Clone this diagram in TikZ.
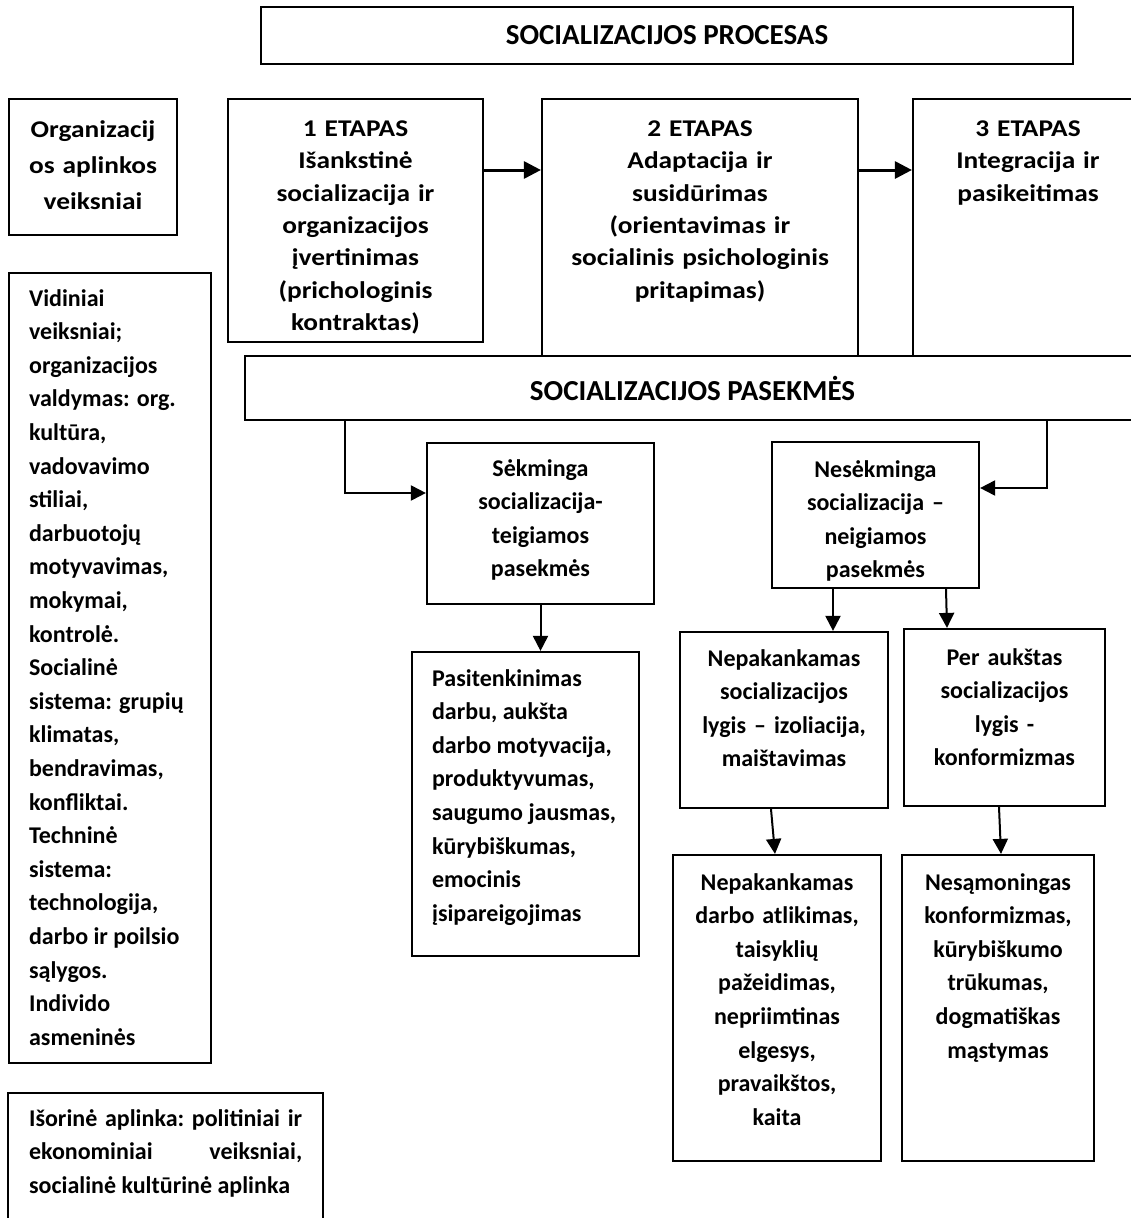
\documentclass[tikz,border=0pt]{standalone}
\usepackage{fontspec}
\setmainfont{Carlito}
\newfontfamily\widefont{Carlito}[FakeStretch=1.14]
\usepackage{tikz}
\usetikzlibrary{positioning, arrows.meta}

\tikzset{
  box/.style={draw, line width=2.2pt, inner sep=0pt},
  txt/.style={inner sep=0pt, align=center, execute at begin node=\strut,
    font=\bfseries\fontsize{24}{33.6}\selectfont},
  ltxt/.style={txt, align=flush left},
  etxt/.style={txt, font=\widefont\bfseries\fontsize{24}{32.4}\selectfont},
  head/.style={font=\bfseries\fontsize{29}{32}\selectfont},
  arr/.style={line width=2pt, -{Triangle[length=15pt,width=15pt]}},
  bigarr/.style={line width=3pt, -{Triangle[length=17pt,width=17pt]}}
}

\begin{document}
\begin{tikzpicture}[x=1pt, y=-1pt]
    \useasboundingbox (0,0) rectangle (1131,1218);

    % --- PROCESAS IR ETAPAI ---
    \node[box, head, minimum width=812pt, minimum height=57pt] (proc) at (667,35.5) {SOCIALIZACIJOS PROCESAS};
    \node[box, minimum width=168pt, minimum height=136pt] (org) at (93,167) {};
    \node[box, minimum width=255pt, minimum height=243pt] (e1) at (355.5,220.5) {};
    \node[box, minimum width=316pt, minimum height=257pt] (e2) at (700,227.5) {};
    \node[box, minimum width=230pt, minimum height=257pt] (e3) at (1028,227.5) {};

    \node[etxt, text width=164pt, font=\widefont\bfseries\fontsize{24}{36}\selectfont, below=14.5pt of org.north] (orgt)
      {Organizacij\\os aplinkos\\veiksniai};
    \node[etxt, text width=250pt, below=15.5pt of e1.north] (e1t)
      {1 ETAPAS\\Išankstinė\\socializacija ir\\organizacijos\\įvertinimas\\(prichologinis\\kontraktas)};
    \node[etxt, text width=310pt, below=15.5pt of e2.north] (e2t)
      {2 ETAPAS\\Adaptacija ir\\susidūrimas\\(orientavimas ir\\socialinis psichologinis\\pritapimas)};
    \node[etxt, text width=225pt, below=15.5pt of e3.north] (e3t)
      {3 ETAPAS\\Integracija ir\\pasikeitimas};

    \draw[bigarr] ([yshift=50.5pt]e1.east) -- ([yshift=50.5pt]e1.east -| e2.west);
    \draw[bigarr] ([yshift=57.5pt]e2.east) -- ([yshift=57.5pt]e2.east -| e3.west);

    % --- veiksniai kairėje ---
    \node[box, minimum width=202pt, minimum height=790pt] (vid) at (110,668) {};
    \node[ltxt, text width=175pt, below right=10.5pt and 21pt of vid.north west] (vidt)
      {Vidiniai\\veiksniai;\\organizacijos\\valdymas: org.\\kultūra,\\vadovavimo\\stiliai,\\darbuotojų\\motyvavimas,\\mokymai,\\kontrolė.\\Socialinė\\sistema: grupių\\klimatas,\\bendravimas,\\konfliktai.\\Techninė\\sistema:\\technologija,\\darbo ir poilsio\\sąlygos.\\Individo\\asmeninės};
    \node[box, minimum width=315pt, minimum height=147pt] (isor) at (165.5,1166.5) {};
    \node[ltxt, text width=273pt, below right=10.5pt and 22pt of isor.north west] (isort)
      {Išorinė\hfill aplinka:\hfill politiniai\hfill ir\\ekonominiai\hfill veiksniai,\\socialinė kultūrinė aplinka};

    % --- PASEKMĖS ---
    \node[box, head, fill=white, minimum width=895pt, minimum height=64pt] (pas) at (692.5,388) {SOCIALIZACIJOS PASEKMĖS};

    \node[box, minimum width=227pt, minimum height=161pt] (sek) at (540.5,523.5) {};
    \node[box, minimum width=207pt, minimum height=146pt] (nes) at (875.5,515) {};
    \node[box, minimum width=227pt, minimum height=304pt] (pat) at (525.5,804) {};
    \node[box, minimum width=208pt, minimum height=176pt] (n2) at (784,720) {};
    \node[box, minimum width=201pt, minimum height=177pt] (pa) at (1004.5,717.5) {};
    \node[box, minimum width=208pt, minimum height=306pt] (n3) at (777,1008) {};
    \node[box, minimum width=192pt, minimum height=306pt] (nsq) at (998,1008) {};

    \node[txt, text width=220pt, below=10.5pt of sek.north] (sekt)
      {Sėkminga\\socializacija-\\teigiamos\\pasekmės};
    \node[txt, text width=200pt, below=12.5pt of nes.north] (nest)
      {Nesėkminga\\socializacija –\\neigiamos\\pasekmės};
    \node[ltxt, text width=200pt, below right=11.5pt and 21pt of pat.north west] (patt)
      {Pasitenkinimas\\darbu, aukšta\\darbo motyvacija,\\produktyvumas,\\saugumo jausmas,\\kūrybiškumas,\\emocinis\\įsipareigojimas};
    \node[txt, text width=200pt, below=11.5pt of n2.north] (n2t)
      {Nepakankamas\\socializacijos\\lygis – izoliacija,\\maištavimas};
    \node[txt, text width=195pt, below=13.5pt of pa.north] (pat2)
      {Per aukštas\\socializacijos\\lygis -\\konformizmas};
    \node[txt, text width=200pt, below=12.5pt of n3.north] (n3t)
      {Nepakankamas\\darbo atlikimas,\\taisyklių\\pažeidimas,\\nepriimtinas\\elgesys,\\pravaikštos,\\kaita};
    \node[txt, text width=185pt, below=12.5pt of nsq.north] (nsqt)
      {Nesąmoningas\\konformizmas,\\kūrybiškumo\\trūkumas,\\dogmatiškas\\mąstymas};

    % rodyklės
    \draw[arr] ([xshift=-347.5pt]pas.south) |- ([yshift=30.5pt]sek.west);
    \draw[arr] ([xshift=354.5pt]pas.south) |- ([yshift=27pt]nes.east);
    \draw[arr] (sek.south) -- (sek.south |- pat.north);
    \draw[arr] ([xshift=-42.5pt]nes.south) -- ([xshift=-42.5pt]nes.south |- n2.north);
    \draw[arr] ([xshift=70.5pt]nes.south) -- ([xshift=-57.5pt]pa.north);
    \draw[arr] ([xshift=-13pt]n2.south) -- ([xshift=-2pt]n3.north);
    \draw[arr] ([xshift=-5.5pt]pa.south) -- ([xshift=3pt]nsq.north);
\end{tikzpicture}
\end{document}
